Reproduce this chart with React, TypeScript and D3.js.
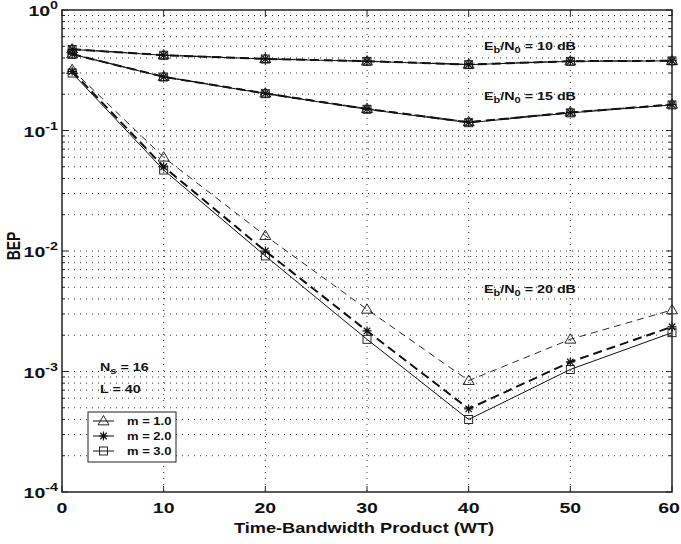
import React from 'react'
import * as d3 from 'd3'

const W = 681
const H = 544
const MARGIN = { top: 10, right: 9, bottom: 52, left: 62 }
const SX = 1.3 // the source text is stretched sideways
const FONT = '"Liberation Sans", Arial, Helvetica, sans-serif'

// time-bandwidth product WT
const wt = [1, 10, 20, 30, 40, 50, 60]

// Eb/N0 = 10 dB (the three m curves lie on top of each other)
const bep10m1 = [0.474, 0.423, 0.394, 0.377, 0.354, 0.377, 0.38]
const bep10m2 = [0.472, 0.422, 0.393, 0.376, 0.353, 0.376, 0.379]
const bep10m3 = [0.471, 0.421, 0.392, 0.375, 0.352, 0.375, 0.378]

// Eb/N0 = 15 dB
const bep15m1 = [0.431, 0.28, 0.204, 0.152, 0.118, 0.142, 0.165]
const bep15m2 = [0.43, 0.279, 0.203, 0.151, 0.117, 0.141, 0.164]
const bep15m3 = [0.429, 0.278, 0.202, 0.15, 0.116, 0.14, 0.163]

// Eb/N0 = 20 dB
const bep20m1 = [0.32, 0.06, 0.0134, 0.00328, 0.00084, 0.00185, 0.00324]
const bep20m2 = [0.31, 0.05, 0.01, 0.00217, 0.00049, 0.0012, 0.00235]
const bep20m3 = [0.3, 0.047, 0.0091, 0.00185, 0.0004, 0.00104, 0.0021]

const xTicks = [0, 10, 20, 30, 40, 50, 60]
const yExponents = [0, -1, -2, -3, -4]

const mLabels = ['m = 1.0', 'm = 2.0', 'm = 3.0']

// line style per m
const STYLES = [
  { marker: 'triangle', width: 0.9, dash: '7,5' },
  { marker: 'star', width: 2, dash: '9,5' },
  { marker: 'square', width: 1, dash: null }
]

const SERIES = [
  { m: 0, values: bep10m1 }, { m: 1, values: bep10m2 }, { m: 2, values: bep10m3 },
  { m: 0, values: bep15m1 }, { m: 1, values: bep15m2 }, { m: 2, values: bep15m3 },
  { m: 0, values: bep20m1 }, { m: 1, values: bep20m2 }, { m: 2, values: bep20m3 }
]

function Marker({ type, x, y }: { type: string; x: number; y: number }) {
  if (type === 'triangle') {
    const s = 5.5
    return (
      <path
        d={`M${x},${y - s} L${x + s},${y + s * 0.7} L${x - s},${y + s * 0.7} Z`}
        fill="none" stroke="#111" strokeWidth={0.9}
      />
    )
  }
  if (type === 'square') {
    const s = 4
    return <rect x={x - s} y={y - s} width={2 * s} height={2 * s} fill="none" stroke="#111" strokeWidth={0.9} />
  }
  const s = 4.5
  const d = s * 0.72
  return (
    <path
      d={`M${x - s},${y} L${x + s},${y} M${x},${y - s} L${x},${y + s} M${x - d},${y - d} L${x + d},${y + d} M${x - d},${y + d} L${x + d},${y - d}`}
      stroke="#111" strokeWidth={1.2}
    />
  )
}

// stretched bold text
function Txt({ x, y, size, anchor = 'start', children }: any) {
  return (
    <text
      transform={`translate(${x},${y}) scale(${SX},1)`}
      fontFamily={FONT} fontWeight="bold" fontSize={size} textAnchor={anchor} fill="#111"
    >
      {children}
    </text>
  )
}

function EbN0({ x, y, db }: { x: number; y: number; db: number }) {
  return (
    <Txt x={x} y={y} size={11}>
      E<tspan fontSize={8.5} dy={3}>b</tspan>
      <tspan dy={-3}>/N</tspan>
      <tspan fontSize={8.5} dy={3}>0</tspan>
      <tspan dy={-3}>{` = ${db} dB`}</tspan>
    </Txt>
  )
}

export default function App() {
  const innerW = W - MARGIN.left - MARGIN.right
  const innerH = H - MARGIN.top - MARGIN.bottom

  const x = d3.scaleLinear().domain([0, 60]).range([MARGIN.left, MARGIN.left + innerW])
  const y = d3.scaleLog().domain([1e-4, 1]).range([MARGIN.top + innerH, MARGIN.top])

  const line = d3.line<number>()
    .x((_, i) => x(wt[i]))
    .y(d => y(d))

  const left = MARGIN.left
  const right = MARGIN.left + innerW
  const top = MARGIN.top
  const bottom = MARGIN.top + innerH

  // minor decade values 2..9 x 10^k
  const minor: number[] = []
  for (let e = -4; e < 0; e++) {
    for (let k = 2; k <= 9; k++) minor.push(k * Math.pow(10, e))
  }

  return (
    <svg width={W} height={H} style={{ position: 'absolute', left: 0, top: 0, background: '#fff' }}>
      {/* Grid */}
      <g stroke="#333" strokeWidth={1} strokeDasharray="1,5">
        {[...minor, 0.1, 0.01, 0.001].map((v, i) => (
          <line key={`gy-${i}`} x1={left} x2={right} y1={y(v)} y2={y(v)} />
        ))}
        {xTicks.slice(1, -1).map(t => (
          <line key={`gx-${t}`} x1={x(t)} x2={x(t)} y1={top} y2={bottom} />
        ))}
      </g>

      {/* Curves */}
      {SERIES.map((s, i) => {
        const st = STYLES[s.m]
        return (
          <path
            key={`line-${i}`}
            d={line(s.values) || ''}
            fill="none"
            stroke="#111"
            strokeWidth={st.width}
            strokeDasharray={st.dash || undefined}
          />
        )
      })}
      {SERIES.map((s, i) => (
        <g key={`mk-${i}`}>
          {s.values.map((v, j) => (
            <Marker key={j} type={STYLES[s.m].marker} x={x(wt[j])} y={y(v)} />
          ))}
        </g>
      ))}

      {/* Box and ticks */}
      <rect x={left} y={top} width={innerW} height={innerH} fill="none" stroke="#222" strokeWidth={1.5} />
      <g stroke="#222" strokeWidth={1}>
        {xTicks.map(t => (
          <g key={`xt-${t}`}>
            <line x1={x(t)} x2={x(t)} y1={bottom} y2={bottom - 6} />
            <line x1={x(t)} x2={x(t)} y1={top} y2={top + 6} />
          </g>
        ))}
        {yExponents.map(e => (
          <g key={`yt-${e}`}>
            <line x1={left} x2={left + 6} y1={y(Math.pow(10, e))} y2={y(Math.pow(10, e))} />
            <line x1={right} x2={right - 6} y1={y(Math.pow(10, e))} y2={y(Math.pow(10, e))} />
          </g>
        ))}
        {minor.map((v, i) => (
          <g key={`ym-${i}`}>
            <line x1={left} x2={left + 3} y1={y(v)} y2={y(v)} />
            <line x1={right} x2={right - 3} y1={y(v)} y2={y(v)} />
          </g>
        ))}
      </g>

      {/* X tick labels */}
      {xTicks.map(t => (
        <Txt key={`xl-${t}`} x={t === 60 ? x(t) - 3 : x(t)} y={bottom + 21} size={15} anchor="middle">{t}</Txt>
      ))}

      {/* Y tick labels */}
      {yExponents.map(e => (
        <Txt key={`yl-${e}`} x={left - 4} y={y(Math.pow(10, e)) + 6} size={15} anchor="end">
          10<tspan fontSize={11} dy={-7}>{e}</tspan>
        </Txt>
      ))}

      {/* Axis titles */}
      <Txt x={(left + right) / 2 - 3} y={533} size={14} anchor="middle">Time-Bandwidth Product (WT)</Txt>
      <text
        transform="translate(20,246) rotate(-90) scale(1,1.25)"
        fontFamily={FONT} fontWeight="bold" fontSize={14} textAnchor="middle" fill="#111"
      >
        BEP
      </text>

      {/* Annotations */}
      <EbN0 x={484} y={50} db={10} />
      <EbN0 x={484} y={100} db={15} />
      <EbN0 x={484} y={293} db={20} />
      <Txt x={100} y={371} size={11}>
        N<tspan fontSize={8.5} dy={3}>s</tspan><tspan dy={-3}> = 16</tspan>
      </Txt>
      <Txt x={100} y={393} size={11}>L = 40</Txt>

      {/* Legend */}
      <g>
        <rect x={88} y={412} width={88} height={50} fill="#fff" stroke="#222" strokeWidth={1} />
        {mLabels.map((lab, i) => {
          const ly = 421 + i * 15
          return (
            <g key={lab}>
              <line x1={93} x2={114} y1={ly} y2={ly} stroke="#111" strokeWidth={1} />
              <Marker type={STYLES[i].marker} x={103.5} y={ly} />
              <Txt x={127} y={ly + 4} size={10}>{lab}</Txt>
            </g>
          )
        })}
      </g>
    </svg>
  )
}
